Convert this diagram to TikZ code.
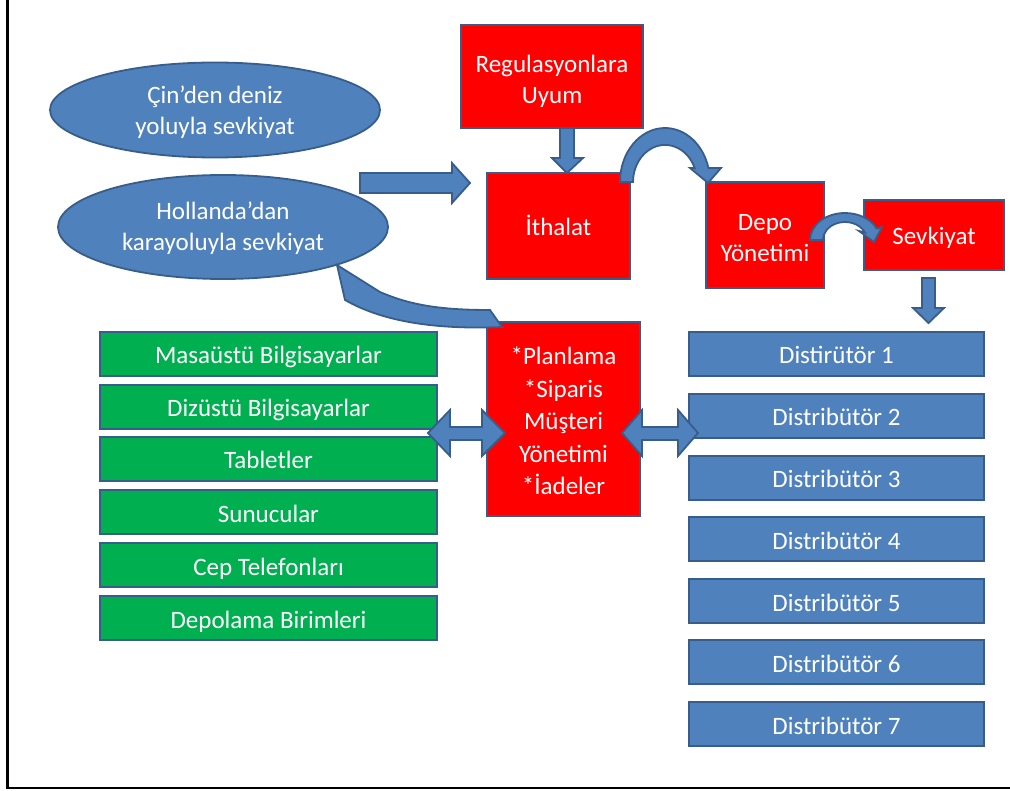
\documentclass[tikz,border=0pt]{standalone}
\usepackage{fontspec}
\setmainfont{Carlito}
\usetikzlibrary{shapes.geometric}
\definecolor{abl}{HTML}{4F81BD}
\definecolor{bord}{HTML}{385D8A}
\definecolor{ared}{HTML}{FF0000}
\definecolor{agreen}{HTML}{00B050}
\begin{document}
\begin{tikzpicture}[x=1pt,y=-1pt,
  every node/.style={font=\fontsize{25}{31}\selectfont, text=white},
  oneline/.style={text height=25pt, text depth=5pt},
  txt/.style={align=center, inner sep=0pt},
  box/.style={draw=bord, line width=1.8pt, inner sep=0pt},
  redbox/.style={box, fill=ared},
  greenbox/.style={box, oneline, fill=agreen, minimum width=337pt, minimum height=44pt},
  bluebox/.style={box, oneline, fill=abl, minimum width=295pt, minimum height=44pt},
  oval/.style={ellipse, draw=bord, line width=1.8pt, fill=abl, inner sep=0pt},
  barrow/.style={fill=abl, draw=bord, line width=1.8pt, line join=miter}
]
\useasboundingbox (0,0) rectangle (1010,791);
\draw[line width=2.5pt] (7.5,0) -- (7.5,788) -- (1010,788);

% ellipses
\node[oval, minimum width=330pt, minimum height=95pt] (e1) at (215,110) {};
\node[txt] (e1t) at ([yshift=-2pt]e1.center) {Çin’den deniz\\yoluyla sevkiyat};
\node[oval, minimum width=330pt, minimum height=104pt] (e2) at (223,227) {};
\node[txt] (e2t) at ([yshift=-1.5pt]e2.center) {Hollanda’dan\\karayoluyla sevkiyat};

% red boxes
\node[redbox, minimum width=182pt, minimum height=103pt] (reg) at (552,76.5) {};
\node[txt] (regt) at ([yshift=-5pt]reg.center) {Regulasyonlara\\Uyum};
\node[redbox, oneline, minimum width=143pt, minimum height=106pt] (ith) at (558.5,226) {İthalat};
\node[redbox, minimum width=118pt, minimum height=106pt] (depo) at (765,235) {};
\node[txt] (depot) at ([yshift=-3pt]depo.center) {Depo\\Yönetimi};
\node[redbox, oneline, minimum width=140pt, minimum height=70pt] (sevk) at (934,235) {Sevkiyat};
\node[redbox, minimum width=153pt, minimum height=194pt] (plan) at (563.5,419) {};
\node[txt, font=\fontsize{25}{32.5}\selectfont] (plant) at ([yshift=-2pt]plan.center) {*Planlama\\*Siparis\\Müşteri\\Yönetimi\\*İadeler};

% green boxes
\node[greenbox] (g1) at (268.5,354) {Masaüstü Bilgisayarlar};
\node[greenbox] (g2) at (268.5,407) {Dizüstü Bilgisayarlar};
\node[greenbox] (g3) at (268.5,459) {Tabletler};
\node[greenbox] (g4) at (268.5,512) {Sunucular};
\node[greenbox] (g5) at (268.5,565) {Cep Telefonları};
\node[greenbox] (g6) at (268.5,618) {Depolama Birimleri};

% blue boxes
\node[bluebox] (d1) at (836.5,354) {Distirütör 1};
\node[bluebox] (d2) at (836.5,416) {Distribütör 2};
\node[bluebox] (d3) at (836.5,478) {Distribütör 3};
\node[bluebox] (d4) at (836.5,539) {Distribütör 4};
\node[bluebox] (d5) at (836.5,601) {Distribütör 5};
\node[bluebox] (d6) at (836.5,662) {Distribütör 6};
\node[bluebox] (d7) at (836.5,724) {Distribütör 7};

% straight block arrows
\draw[barrow] (360,173) -- (452,173) -- (452,163) -- (470,183) -- (452,203) -- (452,193) -- (360,193) -- cycle;
\draw[barrow] (560,128) -- (560,158) -- (552,158) -- (567,173) -- (583,158) -- (574,158) -- (574,128) -- cycle;
\draw[barrow] (922,278) -- (922,308) -- (913,308) -- (928.5,323) -- (944,308) -- (935,308) -- (935,278) -- cycle;

% double arrows
\draw[barrow] (428,433) -- (450,410) -- (450,427) -- (482,427) -- (482,410) -- (505,433) -- (482,456) -- (482,440) -- (450,440) -- (450,456) -- cycle;
\draw[barrow] (622,433) -- (642,410) -- (642,427) -- (678,427) -- (678,410) -- (698,433) -- (678,456) -- (678,440) -- (642,440) -- (642,456) -- cycle;

% curved arrows
\draw[barrow] (620,182) arc[start angle=180,end angle=345,x radius=45,y radius=54] -- (721,168) -- (708,183) -- (690,168) -- (694.7,168.1) arc[start angle=338,end angle=180,x radius=32,y radius=37] -- cycle;
\draw[barrow] (810,240) arc[start angle=180,end angle=335,x radius=35,y radius=27] -- (882,227) -- (874,242) -- (859,231) -- (864.9,232.4) arc[start angle=335,end angle=180,x radius=22,y radius=18] -- cycle;
\draw[barrow] (490,310) .. controls (440,310) and (410,305) .. (380,292) -- (337,265) -- (345,300) .. controls (380,320) and (430,330) .. (502,327) -- cycle;
\end{tikzpicture}
\end{document}
